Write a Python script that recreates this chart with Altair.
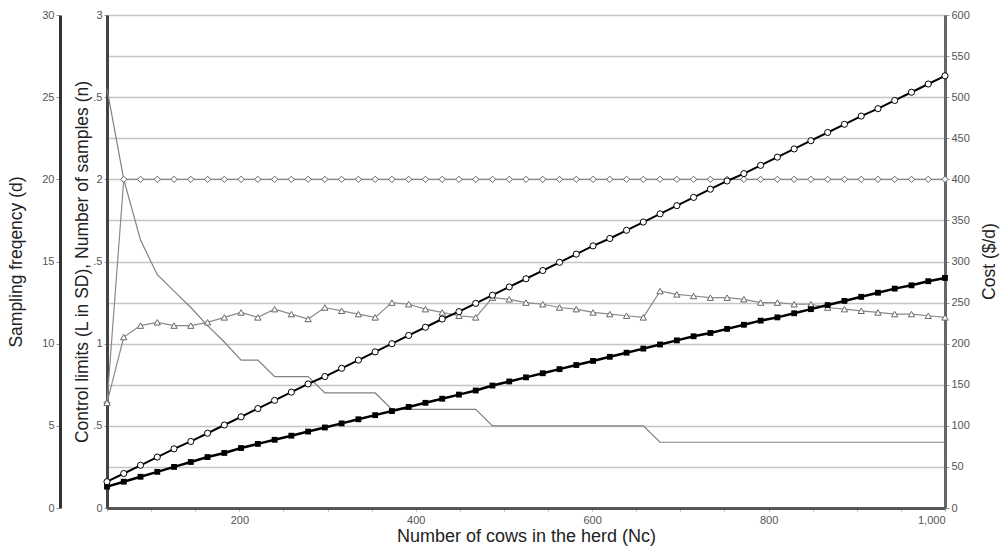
import altair as alt
import pandas as pd

# Number of cows in the herd (x)
cows = [50, 69, 88, 107, 126, 145, 164, 183, 202, 221, 240, 259, 278, 297, 316,
        335, 354, 373, 392, 411, 430, 449, 468, 487, 506, 525, 544, 563, 582, 601,
        620, 639, 658, 677, 696, 715, 734, 753, 772, 791, 810, 829, 848, 867, 886,
        905, 924, 943, 962, 981, 1000]

# Sampling frequency (d), outer left axis 0-30
d_freq = [25.5, 20, 16.3, 14.2, 13.2, 12.2, 11.1, 10.1, 9, 9, 8, 8, 8, 7, 7,
          7, 7, 6, 6, 6, 6, 6, 6, 5, 5, 5, 5, 5, 5, 5,
          5, 5, 5, 4, 4, 4, 4, 4, 4, 4, 4, 4, 4, 4, 4,
          4, 4, 4, 4, 4, 4]

# Control limits (L in SD), inner left axis 0-3  (diamonds)
limits_L = [0.64, 2, 2, 2, 2, 2, 2, 2, 2, 2, 2, 2, 2, 2, 2,
            2, 2, 2, 2, 2, 2, 2, 2, 2, 2, 2, 2, 2, 2, 2,
            2, 2, 2, 2, 2, 2, 2, 2, 2, 2, 2, 2, 2, 2, 2,
            2, 2, 2, 2, 2, 2]

# Number of samples (n), inner left axis 0-3  (triangles)
n_samples = [0.64, 1.04, 1.11, 1.13, 1.11, 1.11, 1.13, 1.16, 1.19, 1.16, 1.21, 1.18, 1.15, 1.22, 1.20,
             1.18, 1.16, 1.25, 1.24, 1.21, 1.19, 1.17, 1.16, 1.28, 1.27, 1.25, 1.24, 1.22, 1.21, 1.19,
             1.18, 1.17, 1.16, 1.32, 1.30, 1.29, 1.28, 1.28, 1.27, 1.25, 1.25, 1.24, 1.24, 1.22, 1.21,
             1.20, 1.19, 1.18, 1.18, 1.17, 1.16]

# Cost ($/d), right axis 0-600: open circles
cost_circles = [32, 42, 52, 62, 72, 81, 91, 101, 111, 121, 131, 141, 151, 160, 170,
                180, 190, 200, 210, 220, 230, 239, 249, 259, 269, 279, 289, 299, 309, 319,
                328, 338, 348, 358, 368, 378, 388, 398, 407, 417, 427, 437, 447, 457, 467,
                477, 486, 496, 506, 516, 526]

# Cost ($/d), right axis 0-600: filled squares
cost_squares = [26, 32, 38, 44, 50, 56, 62, 67, 73, 78, 83, 88, 93, 98, 103,
                108, 113, 118, 123, 128, 133, 138, 143, 149, 154, 159, 164, 169, 174, 179,
                184, 189, 194, 199, 204, 209, 213, 218, 223, 228, 232, 237, 242, 247, 252,
                257, 262, 267, 271, 276, 280]

x_ticks = list(range(50, 1001, 50))
inner_ticks = [0, 0.5, 1, 1.5, 2, 2.5, 3]
outer_ticks = [0, 5, 10, 15, 20, 25, 30]
cost_ticks = list(range(0, 601, 50))

df = pd.DataFrame({
    "cows": cows, "d": d_freq, "L": limits_L, "n": n_samples,
    "costA": cost_circles, "costB": cost_squares,
})

FONT = "Liberation Sans"
TFS = 17.5

x_enc = alt.X(
    "cows:Q",
    scale=alt.Scale(domain=[50, 1000], nice=False, zero=False),
    axis=alt.Axis(
        values=x_ticks,
        labelExpr="datum.value % 200 === 0 ? format(datum.value, ',') : ''",
        title="Number of cows in the herd (Nc)",
        grid=False, domainColor="#555555", domainWidth=3,
        tickColor="#aaaaaa", tickSize=3, labelColor="#555555",
        labelFontSize=11, labelFont=FONT, labelPadding=3,
        titleFont=FONT, titleFontSize=18, titleFontWeight="normal",
        titleColor="#222222", titlePadding=2,
    ),
)

cost_scale = alt.Scale(domain=[0, 600], nice=False, zero=True)
inner_scale = alt.Scale(domain=[0, 3], nice=False, zero=True)
outer_scale = alt.Scale(domain=[0, 30], nice=False, zero=True)

cost_axis = alt.Axis(
    orient="right", values=cost_ticks, grid=True, gridColor="#c4c4c4",
    gridWidth=1.5, domainColor="#666666", domainWidth=3, tickColor="#999999",
    tickSize=4, labelColor="#555555", labelFontSize=11, labelFont=FONT,
    labelPadding=2, title="Cost ($/d)", titleFont=FONT, titleFontSize=TFS,
    titleFontWeight="normal", titleColor="#222222",
    titleAngle=270, titleX=44, titleY=246, titleAlign="center",
    titleBaseline="middle",
)

inner_axis = alt.Axis(
    orient="left", values=inner_ticks, grid=False,
    labelExpr="datum.value % 1 === 0 ? format(datum.value, 'd') : '.5'",
    domainColor="#444444", domainWidth=3, tickColor="#999999", tickSize=3,
    labelColor="#555555", labelFontSize=11, labelFont=FONT, labelPadding=2,
    title="Control limits (L in SD), Number of samples (n)", titleFont=FONT,
    titleFontSize=TFS, titleFontWeight="normal", titleColor="#222222",
    titlePadding=1,
)

outer_axis = alt.Axis(
    orient="left", offset=47, values=outer_ticks, grid=False,
    domainColor="#333333", domainWidth=3, tickColor="#999999", tickSize=4,
    labelColor="#555555", labelFontSize=11, labelFont=FONT, labelPadding=2,
    title="Sampling freqency (d)", titleFont=FONT, titleFontSize=TFS,
    titleFontWeight="normal", titleColor="#222222", titlePadding=16,
)

base = alt.Chart(df)

# gridlines + right axis
cost_grid = base.mark_line(opacity=0).encode(
    x=x_enc, y=alt.Y("costB:Q", scale=cost_scale, axis=cost_axis))

d_line = base.mark_line(color="#808080", strokeWidth=1.2).encode(
    x=x_enc, y=alt.Y("d:Q", scale=outer_scale, axis=outer_axis))

inner_ref = base.mark_line(opacity=0).encode(
    x=x_enc, y=alt.Y("L:Q", scale=inner_scale, axis=inner_axis))

L_line = base.mark_line(color="#8a8a8a", strokeWidth=1.2).encode(
    x=x_enc, y=alt.Y("L:Q", scale=inner_scale, axis=None))
L_pts = base.mark_point(shape="diamond", size=40, filled=True, fill="white",
                        stroke="#666666", strokeWidth=1, opacity=1).encode(
    x=x_enc, y=alt.Y("L:Q", scale=inner_scale, axis=None))

n_line = base.mark_line(color="#8a8a8a", strokeWidth=1.2).encode(
    x=x_enc, y=alt.Y("n:Q", scale=inner_scale, axis=None))
n_pts = base.mark_point(shape="triangle-up", size=40, filled=True, fill="white",
                        stroke="#666666", strokeWidth=1, opacity=1).encode(
    x=x_enc, y=alt.Y("n:Q", scale=inner_scale, axis=None))

B_line = base.mark_line(color="#000000", strokeWidth=2.5).encode(
    x=x_enc, y=alt.Y("costB:Q", scale=cost_scale, axis=None))
B_pts = base.mark_square(size=34, color="#000000", opacity=1).encode(
    x=x_enc, y=alt.Y("costB:Q", scale=cost_scale, axis=None))

A_line = base.mark_line(color="#000000", strokeWidth=2).encode(
    x=x_enc, y=alt.Y("costA:Q", scale=cost_scale, axis=None))
A_pts = base.mark_point(shape="circle", size=38, filled=True, fill="white",
                        stroke="#000000", strokeWidth=1, opacity=1).encode(
    x=x_enc, y=alt.Y("costA:Q", scale=cost_scale, axis=None))

chart = alt.layer(
    cost_grid, d_line, inner_ref, L_line, L_pts, n_line, n_pts,
    B_line, B_pts, A_line, A_pts,
).resolve_scale(y="independent").properties(
    width=838, height=493,
    autosize=alt.AutoSizeParams(type="none"),
    padding={"left": 107, "top": 15, "right": 55, "bottom": 44},
    background="white",
).configure_view(stroke=None)

chart.save("out.html", embed_options={"renderer": "svg", "actions": False})
